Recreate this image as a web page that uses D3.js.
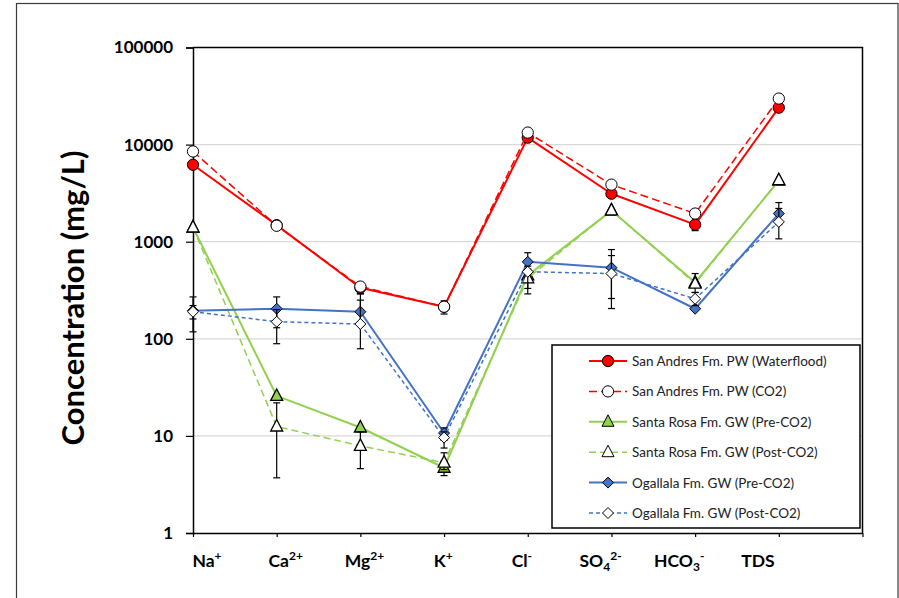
<!DOCTYPE html>
<html>
<head>
<meta charset="utf-8">
<script src="https://cdn.jsdelivr.net/npm/d3@7"></script>
<style>
  html, body { margin: 0; padding: 0; background: #fff; }
  svg { display: block; }
</style>
</head>
<body>
<svg id="chart" width="899" height="598"></svg>
<script>
// ---------------- DATA ----------------
const categories = ["Na^+", "Ca^2+", "Mg^2+", "K^+", "Cl^-", "SO_4^2-", "HCO_3^-", "TDS"];
const yTickValues = [1, 10, 100, 1000, 10000, 100000];

const seriesNames = [
  "San Andres Fm. PW (Waterflood)",
  "San Andres Fm. PW (CO2)",
  "Santa Rosa Fm. GW (Pre-CO2)",
  "Santa Rosa Fm. GW (Post-CO2)",
  "Ogallala Fm. GW (Pre-CO2)",
  "Ogallala Fm. GW (Post-CO2)"
];

const sanAndresWaterflood = [6200, 1480, 336, 214, 11800, 3120, 1500, 24000];
const sanAndresCO2        = [8500, 1460, 345, 214, 13300, 3870, 1950, 29800];
const santaRosaPre        = [1400, 25.8, 12.2, 4.7, 450, 2090, 380, 4250];
const santaRosaPost       = [1400, 12.5, 7.9, 5.3, 420, 2100, 370, 4300];
const ogallalaPre         = [195, 204, 190, 10.7, 620, 540, 204, 1950];
const ogallalaPost        = [190, 150, 142, 9.6, 490, 470, 258, 1600];

// error bars: [low, high] per category (null = none)
const sanAndresWaterfloodErr = [null, null, [290, 380], [180, 246], [10500, 12800], [2900, 3300], [1300, 1600], [22400, 25500]];
const sanAndresCO2Err        = [null, null, null, null, null, null, null, null];
const santaRosaPreErr        = [null, null, null, [3.9, 5.5], null, null, null, null];
const santaRosaPostErr       = [null, [3.7, 21.9], [4.6, 11], [4.5, 6.7], [330, 520], null, [300, 470], null];
const ogallalaPreErr         = [[160, 270], [130, 270], [150, 291], [9, 12.1], [520, 770], [260, 830], null, [1500, 2530]];
const ogallalaPostErr        = [[118, 220], [89, 200], [79, 250], [7.5, 11], [290, 560], [205, 720], [220, 300], [1070, 2200]];

// ---------------- STYLES ----------------
const styles = [
  { color: "#FF0000", dash: null,  width: 2,   marker: "circle",   fill: "#FF0000" },
  { color: "#FF0000", dash: "8,4", width: 1.5, marker: "circle",   fill: "#FFFFFF" },
  { color: "#92D050", dash: null,  width: 2,   marker: "triangle", fill: "#92D050" },
  { color: "#92D050", dash: "7,4", width: 1.5, marker: "triangle", fill: "#FFFFFF" },
  { color: "#4472C4", dash: null,  width: 2,   marker: "diamond",  fill: "#4472C4" },
  { color: "#4472C4", dash: "4,3", width: 1.5, marker: "diamond",  fill: "#FFFFFF" }
];

const seriesValues = [sanAndresWaterflood, sanAndresCO2, santaRosaPre, santaRosaPost, ogallalaPre, ogallalaPost];
const seriesErrors = [sanAndresWaterfloodErr, sanAndresCO2Err, santaRosaPreErr, santaRosaPostErr, ogallalaPreErr, ogallalaPostErr];

// ---------------- LAYOUT ----------------
const svg = d3.select("#chart");
const plotLeft = 193, plotRight = 862.5, plotTop = 47.5, plotBottom = 533;

// outer frame
svg.append("rect")
  .attr("x", 16.5).attr("y", 3.5).attr("width", 881.5).attr("height", 640)
  .attr("fill", "none").attr("stroke", "#3a3a3a").attr("stroke-width", 1.2);

const x = d3.scaleLinear().domain([0, categories.length]).range([plotLeft, plotRight]);
const y = d3.scaleLog().domain([1, 100000]).range([plotBottom, plotTop]);
const labelX = d3.scalePoint().domain(categories).range([207, 758]);

// gridlines
svg.append("g").selectAll("line")
  .data(yTickValues.filter(v => v > 1 && v < 100000))
  .join("line")
  .attr("x1", plotLeft).attr("x2", plotRight)
  .attr("y1", d => y(d)).attr("y2", d => y(d))
  .attr("stroke", "#d9d9d9").attr("stroke-width", 1.2);

// plot frame (top & right)
svg.append("path")
  .attr("d", `M${plotLeft},${plotTop}H${plotRight}V${plotBottom}`)
  .attr("fill", "none").attr("stroke", "#000").attr("stroke-width", 1.5);

// Y axis
const yAxis = d3.axisLeft(y)
  .tickValues(yTickValues)
  .tickFormat(d3.format("d"))
  .tickSize(7)
  .tickPadding(13);
const gy = svg.append("g").attr("transform", `translate(${plotLeft},0)`).call(yAxis);
gy.select(".domain").attr("stroke-width", 1.5);
gy.selectAll(".tick line").attr("stroke-width", 1.2);
gy.selectAll("text")
  .attr("font-family", "Lato, 'Open Sans', sans-serif")
  .attr("font-weight", "bold")
  .attr("font-size", "17px")
  .attr("fill", "#000");

// X axis
const xAxis = d3.axisBottom(x)
  .tickValues(d3.range(0, categories.length + 1))
  .tickFormat("")
  .tickSize(4)
  .tickSizeOuter(0);
const gx = svg.append("g").attr("transform", `translate(0,${plotBottom})`).call(xAxis);
gx.select(".domain").attr("stroke-width", 1.5);
gx.selectAll(".tick line").attr("stroke-width", 1.2);

// category labels with sub/superscripts
function addRichLabel(sel, str) {
  const m = str.match(/^([A-Za-z]+)(?:_(\d+))?(?:\^(.+))?$/);
  sel.append("tspan").text(m[1]);
  if (m[2]) sel.append("tspan").attr("font-size", "12px").attr("dy", "4").text(m[2]);
  if (m[3]) sel.append("tspan").attr("font-size", "12px").attr("dy", m[2] ? "-11" : "-7").text(m[3]);
}
svg.append("g").selectAll("text")
  .data(categories)
  .join("text")
  .attr("x", d => labelX(d))
  .attr("y", 567)
  .attr("text-anchor", "middle")
  .attr("font-family", "Lato, 'Open Sans', sans-serif")
  .attr("font-weight", "bold")
  .attr("font-size", "17.5px")
  .attr("fill", "#000")
  .each(function(d) { addRichLabel(d3.select(this), d); });

// Y title
svg.append("text")
  .attr("transform", `translate(72,298) rotate(-90)`)
  .attr("text-anchor", "middle")
  .attr("dominant-baseline", "central")
  .attr("font-family", "Lato, 'Open Sans', sans-serif")
  .attr("font-weight", "bold")
  .attr("font-size", "31px")
  .attr("fill", "#000")
  .text("Concentration (mg/L)");

// marker shapes
function diamondPath() { return "M0,-5.5L5.5,0L0,5.5L-5.5,0Z"; }
function trianglePath() { return "M0,-7L6,4.5L-6,4.5Z"; }
function shapeFor(type) {
  if (type === "circle") return d3.symbol(d3.symbolCircle, 100)();
  if (type === "triangle") return trianglePath();
  return diamondPath();
}

const line = d3.line().x((d, i) => x(i)).y(d => y(d));
const plot = svg.append("g");

seriesValues.forEach((vals, s) => {
  const st = styles[s];
  const g = plot.append("g");
  g.append("path")
    .datum(vals)
    .attr("d", line)
    .attr("fill", "none")
    .attr("stroke", st.color)
    .attr("stroke-width", st.width)
    .attr("stroke-dasharray", st.dash)
    .attr("stroke-linejoin", "round");
  // error bars
  const errs = seriesErrors[s].map((e, i) => e ? { i, lo: e[0], hi: e[1] } : null).filter(Boolean);
  const eb = g.append("g").attr("stroke", "#000").attr("stroke-width", 1.2);
  eb.selectAll("line.v").data(errs).join("line").attr("class", "v")
    .attr("x1", d => x(d.i)).attr("x2", d => x(d.i))
    .attr("y1", d => y(d.lo)).attr("y2", d => y(d.hi));
  eb.selectAll("line.lo").data(errs).join("line").attr("class", "lo")
    .attr("x1", d => x(d.i) - 3.5).attr("x2", d => x(d.i) + 3.5)
    .attr("y1", d => y(d.lo)).attr("y2", d => y(d.lo));
  eb.selectAll("line.hi").data(errs).join("line").attr("class", "hi")
    .attr("x1", d => x(d.i) - 3.5).attr("x2", d => x(d.i) + 3.5)
    .attr("y1", d => y(d.hi)).attr("y2", d => y(d.hi));
  // markers
  g.selectAll("path.mk").data(vals).join("path").attr("class", "mk")
    .attr("transform", (d, i) => `translate(${x(i)},${y(d)})`)
    .attr("d", shapeFor(st.marker))
    .attr("fill", st.fill)
    .attr("stroke", "#000")
    .attr("stroke-width", st.marker === "triangle" ? 1.3 : 1);
});

// legend
const lg = svg.append("g");
lg.append("rect")
  .attr("x", 552).attr("y", 345).attr("width", 308).attr("height", 183)
  .attr("fill", "#fff").attr("stroke", "#000").attr("stroke-width", 1.5);
const rowY = d3.scaleLinear().domain([0, 5]).range([361, 513]);
seriesNames.forEach((name, s) => {
  const st = styles[s];
  const yy = rowY(s);
  lg.append("line")
    .attr("x1", 589).attr("x2", 627).attr("y1", yy).attr("y2", yy)
    .attr("stroke", st.color).attr("stroke-width", st.width)
    .attr("stroke-dasharray", st.dash);
  lg.append("path")
    .attr("transform", `translate(608,${yy})`)
    .attr("d", shapeFor(st.marker))
    .attr("fill", st.fill).attr("stroke", "#000").attr("stroke-width", 1);
  lg.append("text")
    .attr("x", 632).attr("y", yy)
    .attr("dominant-baseline", "central")
    .attr("font-family", "Lato, 'Open Sans', sans-serif")
    .attr("font-size", "13.5px")
    .attr("fill", "#222")
    .text(name);
});
</script>
</body>
</html>
